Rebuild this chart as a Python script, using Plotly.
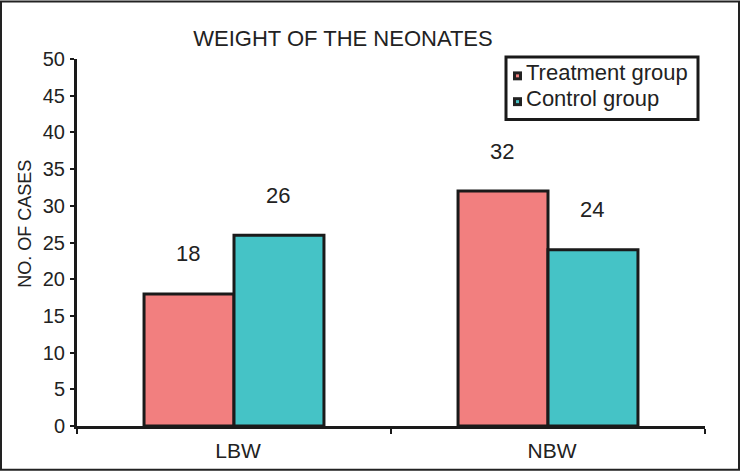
import plotly.graph_objects as go

categories = ["LBW", "NBW"]
treatment = [18, 32]
control = [26, 24]
series_names = ["Treatment group", "Control group"]
y_ticks = [0, 5, 10, 15, 20, 25, 30, 35, 40, 45, 50]

colors = ["#F27F7F", "#45C3C6"]
FONT = "Liberation Sans, Arial, sans-serif"
W, H = 740, 474
ML, MR, MT, MB = 77, 35, 59, 45
PW, PH = W - ML - MR, H - MT - MB


def px(X):
    # window pixel -> paper x
    return (X - ML) / PW


def py(Y):
    # window pixel -> paper y
    return (H - MB - Y) / PH


fig = go.Figure()
fig.add_bar(x=categories, y=treatment, name=series_names[0],
            marker=dict(color=colors[0], line=dict(color="#1a1a1a", width=3)))
fig.add_bar(x=categories, y=control, name=series_names[1],
            marker=dict(color=colors[1], line=dict(color="#1a1a1a", width=3)))

# value labels floating above the bars
for cat, t, c in zip(categories, treatment, control):
    fig.add_annotation(x=cat, y=t, text=str(t), xshift=-46, yshift=40,
                       showarrow=False, font=dict(size=22, color="#222"))
    fig.add_annotation(x=cat, y=c, text=str(c), xshift=44, yshift=40,
                       showarrow=False, font=dict(size=22, color="#222"))

# y axis title, sits a bit above the plot's middle
fig.add_annotation(xref="paper", yref="paper", x=px(25), y=py(225),
                   xanchor="center", yanchor="middle",
                   text="NO. OF CASES", textangle=-90, showarrow=False,
                   font=dict(size=18, color="#222"))

# hand-made legend: boxed, small dark squares with coloured centres
fig.add_shape(type="rect", xref="paper", yref="paper",
              x0=px(506), x1=px(698), y0=py(120), y1=py(57),
              line=dict(color="#1a1a1a", width=3), fillcolor="white")
for i, (name, col) in enumerate(zip(series_names, colors)):
    cy = 76 + i * 26
    fig.add_shape(type="rect", xref="paper", yref="paper",
                  x0=px(513), x1=px(522), y0=py(cy + 4.5), y1=py(cy - 4.5),
                  line=dict(width=0), fillcolor="#222")
    fig.add_shape(type="rect", xref="paper", yref="paper",
                  x0=px(516), x1=px(519), y0=py(cy + 1.5), y1=py(cy - 1.5),
                  line=dict(width=0), fillcolor=col)
    fig.add_annotation(xref="paper", yref="paper", x=px(524), y=py(cy - 3),
                       xanchor="left", yanchor="middle", text=name,
                       showarrow=False, font=dict(size=22, color="#222"))

# outer frame around the whole picture
fig.add_shape(type="rect", xref="paper", yref="paper",
              x0=px(1), x1=px(W - 1), y0=py(H - 1), y1=py(1),
              line=dict(color="#222", width=2))

fig.update_layout(
    width=W, height=H,
    margin=dict(l=ML, r=MR, t=MT, b=MB),
    paper_bgcolor="white", plot_bgcolor="white",
    font=dict(family=FONT, color="#222"),
    title=dict(text="WEIGHT OF THE NEONATES", x=343 / W, xanchor="center",
               y=1 - 38.5 / H, yanchor="middle", font=dict(size=22)),
    barmode="group", bargap=0.427, bargroupgap=0,
    showlegend=False,
    xaxis=dict(showline=True, linecolor="#1a1a1a", linewidth=3,
               ticks="outside", tickson="boundaries", ticklen=5, tickwidth=2,
               tickcolor="#1a1a1a", tickfont=dict(size=21), showgrid=False,
               ticklabelshift=4, ticklabelstandoff=4),
    yaxis=dict(range=[0, 50], tickvals=y_ticks, showline=True,
               linecolor="#1a1a1a", linewidth=3, ticks="outside", ticklen=4,
               tickwidth=2, tickcolor="#1a1a1a", tickfont=dict(size=20),
               showgrid=False, zeroline=False, ticklabelstandoff=1),
)

fig.write_html("out.html", config={"displayModeBar": False},
               post_script="document.body.style.margin='0';")
